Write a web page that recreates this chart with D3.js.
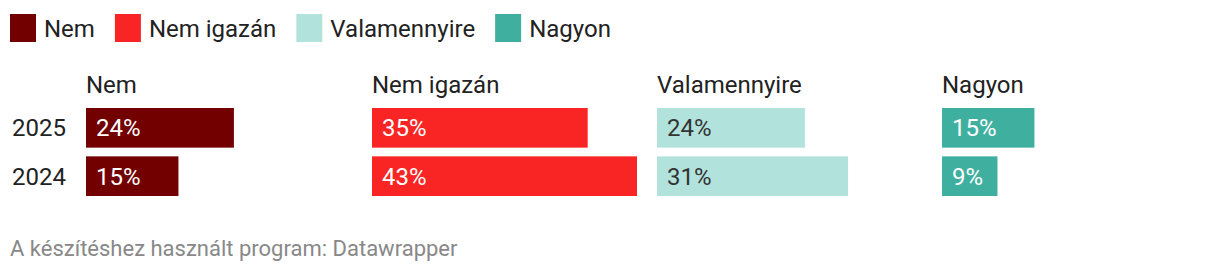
<!DOCTYPE html>
<html><head><meta charset="utf-8">
<script src="https://cdn.jsdelivr.net/npm/d3@7"></script>
<style>
html,body{margin:0;padding:0;background:#fff;}
svg text{font-family:Roboto, "Noto Sans", sans-serif;}
</style></head>
<body><svg id="c" width="1220" height="272"></svg>
<script>
const years = ["2025", "2024"];
const categories = ["Nem", "Nem igazán", "Valamennyire", "Nagyon"];
const valNem = [24, 15];
const valNemIgazan = [35, 43];
const valValamennyire = [24, 31];
const valNagyon = [15, 9];
const colors = ["#730000", "#f92424", "#b1e3dc", "#3fb0a0"];
const labelColors = ["#ffffff", "#ffffff", "#333333", "#ffffff"];
const series = [valNem, valNemIgazan, valValamennyire, valNagyon];
const footer = "A készítéshez használt program: Datawrapper";

const svg = d3.select("#c");
const fs = 24;

// legend
const leg = svg.append("g");
let lx = 10;
categories.forEach((c, i) => {
  leg.append("rect").attr("x", lx).attr("y", 14).attr("width", 26).attr("height", 28).attr("fill", colors[i]);
  const t = leg.append("text").attr("x", lx + 34).attr("y", 36.5).attr("font-size", fs).attr("fill", "#222").text(c);
  lx += 34 + t.node().getComputedTextLength() + 20;
});

// panels
const panelX = d3.scaleBand().domain(categories).range([86, 1227.2]).paddingInner(0).paddingOuter(0);
const y = d3.scaleBand().domain(years).range([108, 196]).paddingInner(0.18);
const maxV = d3.max(series.flat());
const x = d3.scaleLinear().domain([0, maxV]).range([0, 265]);

svg.selectAll(".yl").data(years).join("text")
  .attr("x", 12).attr("y", d => y(d) + y.bandwidth() / 2 + 8.5)
  .attr("font-size", fs).attr("fill", "#222").text(d => d);

categories.forEach((c, i) => {
  const g = svg.append("g").attr("transform", `translate(${Math.ceil(panelX(c))},0)`);
  g.append("text").attr("x", 0).attr("y", 93).attr("font-size", fs).attr("fill", "#222").text(c);
  const data = years.map((yr, j) => ({yr, v: series[i][j]}));
  g.selectAll("rect").data(data).join("rect")
    .attr("x", 0).attr("y", d => y(d.yr)).attr("width", d => x(d.v)).attr("height", y.bandwidth())
    .attr("fill", colors[i]);
  g.selectAll(".lab").data(data).join("text")
    .attr("x", 10).attr("y", d => y(d.yr) + y.bandwidth() / 2 + 8.5)
    .attr("font-size", fs).attr("fill", labelColors[i]).text(d => d.v + "%");
});

svg.append("text").attr("x", 10).attr("y", 256).attr("font-size", 22).attr("fill", "#888").text(footer);
</script></body></html>
